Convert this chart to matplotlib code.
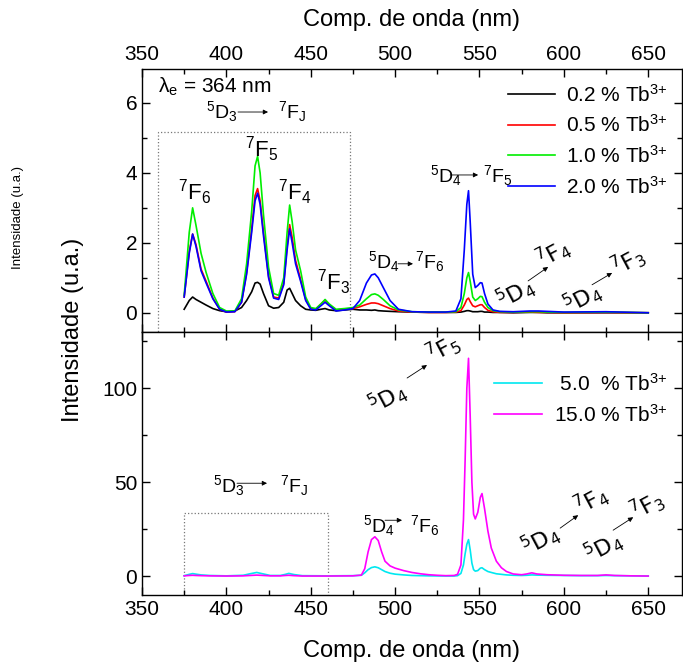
import matplotlib.pyplot as plt
import numpy as np
from matplotlib.ticker import MultipleLocator

plt.rcParams['font.family'] = ['Liberation Sans', 'DejaVu Sans']
plt.rcParams['mathtext.fontset'] = 'custom'
plt.rcParams['mathtext.rm'] = 'Liberation Sans'
plt.rcParams['mathtext.it'] = 'Liberation Sans:italic'
plt.rcParams['mathtext.default'] = 'regular'

# emission spectra, low Tb3+ contents (upper panel)
wl_low = [375, 378, 380, 382, 385, 388, 392, 396, 400, 405, 409, 412, 415, 417, 418.5,
          420, 422, 425, 428, 431, 434, 436, 437.5, 439, 441, 444, 447, 450, 453, 456,
          458.5, 461, 465, 470, 475, 479, 483, 486, 488, 490, 493, 497, 502, 510, 520,
          530, 536, 539, 541, 542.5, 543.5, 544.5, 546, 547.5, 549, 550.5, 551.5, 553,
          555, 558, 562, 570, 580, 585, 590, 600, 625, 650]

tb_02 = [0.1, 0.35, 0.45, 0.38, 0.3, 0.22, 0.12, 0.06, 0.03, 0.05, 0.15, 0.35, 0.6, 0.85, 0.87,
         0.82, 0.55, 0.2, 0.13, 0.15, 0.3, 0.65, 0.7, 0.55, 0.35, 0.2, 0.1, 0.08, 0.07, 0.1,
         0.12, 0.08, 0.06, 0.08, 0.1, 0.08, 0.08, 0.07, 0.08, 0.06, 0.05, 0.04, 0.03, 0.02, 0.01,
         0.01, 0.01, 0.02, 0.04, 0.06, 0.06, 0.05, 0.03, 0.03, 0.03, 0.04, 0.04, 0.02,
         0.02, 0.01, 0.01, 0.0, 0.01, 0.01, 0.0, 0.0, 0.0, 0.0]

tb_05 = [0.45, 1.75, 2.25, 1.95, 1.25, 0.9, 0.42, 0.1, 0.02, 0.03, 0.3, 1.15, 2.4, 3.35, 3.55,
         3.2, 2.3, 1.05, 0.45, 0.42, 0.85, 1.9, 2.52, 2.15, 1.5, 0.95, 0.38, 0.12, 0.1, 0.25,
         0.36, 0.22, 0.08, 0.1, 0.12, 0.17, 0.24, 0.28, 0.28, 0.26, 0.2, 0.12, 0.05, 0.02, 0.01,
         0.01, 0.02, 0.06, 0.22, 0.38, 0.42, 0.32, 0.2, 0.17, 0.2, 0.23, 0.23, 0.15,
         0.07, 0.03, 0.01, 0.01, 0.02, 0.01, 0.01, 0.0, 0.01, 0.0]

tb_10 = [0.5, 2.3, 3.0, 2.5, 1.7, 1.15, 0.55, 0.15, 0.05, 0.05, 0.4, 1.4, 2.9, 4.2, 4.47,
         4.0, 2.8, 1.3, 0.55, 0.5, 1.0, 2.3, 3.08, 2.6, 1.8, 1.2, 0.45, 0.15, 0.12, 0.25,
         0.38, 0.25, 0.1, 0.12, 0.15, 0.22, 0.4, 0.52, 0.54, 0.5, 0.38, 0.2, 0.08, 0.03, 0.02,
         0.02, 0.03, 0.15, 0.55, 1.0, 1.15, 0.9, 0.45, 0.35, 0.4, 0.47, 0.46, 0.3,
         0.15, 0.06, 0.03, 0.02, 0.03, 0.03, 0.02, 0.01, 0.02, 0.0]

tb_20 = [0.45, 1.7, 2.25, 1.9, 1.2, 0.85, 0.4, 0.1, 0.02, 0.03, 0.3, 1.1, 2.3, 3.2, 3.42,
         3.1, 2.2, 1.0, 0.42, 0.38, 0.8, 1.8, 2.4, 2.0, 1.4, 0.9, 0.35, 0.1, 0.08, 0.2,
         0.3, 0.2, 0.05, 0.08, 0.12, 0.35, 0.85, 1.08, 1.11, 1.0, 0.72, 0.35, 0.1, 0.03, 0.02,
         0.02, 0.05, 0.4, 1.8, 3.1, 3.49, 2.6, 1.1, 0.72, 0.78, 0.86, 0.85, 0.55,
         0.25, 0.08, 0.04, 0.03, 0.05, 0.05, 0.04, 0.02, 0.03, 0.0]

# emission spectra, high Tb3+ contents (lower panel)
wl_high = [375, 378, 380, 382, 385, 390, 400, 410, 414, 418, 422, 426, 432, 435, 437, 440,
           445, 460, 475, 480, 482, 484, 486, 488, 490, 492, 494, 497, 500, 505, 510, 515,
           520, 525, 530, 535, 537, 539, 540.5, 541.5, 542.5, 543.5, 544.5, 545.5, 546.5,
           547.5, 549, 550.5, 551.5, 553, 555, 557, 560, 563, 566, 570, 575, 578, 581, 584,
           590, 600, 610, 620, 625, 630, 640, 650]

tb_50 = [0.3, 1.0, 1.4, 1.1, 0.7, 0.4, 0.2, 0.5, 1.3, 2.0, 1.2, 0.4, 0.4, 1.0, 1.5, 0.9,
         0.3, 0.2, 0.3, 0.5, 1.8, 3.5, 4.6, 5.0, 4.5, 3.5, 2.5, 1.6, 1.1, 0.7, 0.4, 0.3,
         0.2, 0.15, 0.1, 0.1, 0.3, 1.5, 6, 12, 17, 19.5, 14, 7, 3.5,
         2.7, 3, 4.3, 4.5, 3.5, 2.5, 2, 1.3, 1.0, 0.7, 0.5, 0.4, 0.5, 0.7, 0.6,
         0.5, 0.4, 0.3, 0.3, 0.4, 0.3, 0.2, 0.1]

tb_150 = [0.2, 0.4, 0.5, 0.4, 0.3, 0.2, 0.1, 0.2, 0.4, 0.6, 0.4, 0.2, 0.2, 0.4, 0.5, 0.3,
          0.1, 0.1, 0.2, 0.6, 4, 13, 19.5, 21, 19, 13, 8, 5.5, 4.3, 3, 2, 1.3,
          0.8, 0.5, 0.3, 0.4, 1, 6, 30, 62, 100, 116, 85, 50, 33,
          30.5, 34, 42, 44, 36, 24, 15, 8, 4.5, 2.5, 1.2, 0.8, 1.2, 1.8, 1.2,
          0.8, 0.5, 0.4, 0.4, 0.7, 0.4, 0.2, 0.1]

low_series = [(tb_02, 'black', '0.2 % Tb$^{3{+}}$'),
              (tb_05, '#ff0000', '0.5 % Tb$^{3{+}}$'),
              (tb_10, '#00ee00', '1.0 % Tb$^{3{+}}$'),
              (tb_20, '#0000ff', '2.0 % Tb$^{3{+}}$')]
high_series = [(tb_50, '#00e8f0', ' 5.0  % Tb$^{3{+}}$'),
               (tb_150, '#ff00ff', '15.0 % Tb$^{3{+}}$')]

fig = plt.figure(figsize=(6.83, 6.64), dpi=100)
ax1 = fig.add_axes([0.2079, 0.5, 0.7906, 0.3961])
ax2 = fig.add_axes([0.2079, 0.1039, 0.7906, 0.3961])

for y, c, lab in low_series:
    ax1.plot(wl_low, y, color=c, lw=1.2, label=lab)
for y, c, lab in high_series:
    ax2.plot(wl_high, y, color=c, lw=1.2, label=lab)

for ax in (ax1, ax2):
    ax.set_xlim(350, 670)
    ax.xaxis.set_major_locator(MultipleLocator(50))
    ax.xaxis.set_minor_locator(MultipleLocator(25))
    ax.tick_params(which='both', direction='in', top=True, bottom=True, left=True,
                   right=True, labelsize=15, width=1)
    ax.tick_params(which='major', length=6)
    ax.tick_params(which='minor', length=3.5)
    for s in ax.spines.values():
        s.set_linewidth(1)

ax1.set_ylim(-0.55, 6.97)
ax1.yaxis.set_major_locator(MultipleLocator(2))
ax1.yaxis.set_minor_locator(MultipleLocator(1))
ax1.tick_params(labelbottom=False, labeltop=True)
ax1.xaxis.set_label_position('top')
ax1.set_xlabel('Comp. de onda (nm)', fontsize=17, labelpad=14)

ax2.set_ylim(-10, 130)
ax2.yaxis.set_major_locator(MultipleLocator(50))
ax2.yaxis.set_minor_locator(MultipleLocator(25))
ax2.set_xlabel('Comp. de onda (nm)', fontsize=17, labelpad=15)

fig.text(0.107, 0.503, 'Intensidade (u.a.)', rotation=90, fontsize=17,
         ha='center', va='center')
fig.text(0.027, 0.673, 'Intensidade (u.a.)', rotation=90, fontsize=9.5,
         ha='center', va='center')

leg1 = ax1.legend(loc='upper right', frameon=False, fontsize=15, handlelength=2.25,
                  handletextpad=0.5, labelspacing=0.42, borderaxespad=0.3,
                  bbox_to_anchor=(1.0, 1.0))
leg2 = ax2.legend(loc='upper right', frameon=False, fontsize=15, handlelength=2.3,
                  handletextpad=0.6, labelspacing=0.42, borderaxespad=0.3,
                  bbox_to_anchor=(1.0, 0.90))

# dotted boxes around the 5D3 region
ax1.add_patch(plt.Rectangle((359.5, -1), 113.8, 6.17, fill=False, ls=':', lw=0.9,
                            ec='#777777', clip_on=True))
ax2.add_patch(plt.Rectangle((375, -20), 85, 53.7, fill=False, ls=':', lw=0.9,
                            ec='#777777', clip_on=True))


def arrow(ax, x0, y0, x1, y1):
    ax.annotate('', xy=(x1, y1), xytext=(x0, y0),
                arrowprops=dict(arrowstyle='-|>', color='k', lw=0.6,
                                mutation_scale=7, shrinkA=0, shrinkB=0))


def transition(ax, x0, y0, ax0, ax1_, ay, x1, lo, hi, fs=14):
    ax.text(x0, y0, r'$^{5}$D$_{%s}$' % lo, fontsize=fs, ha='left', va='baseline')
    arrow(ax, ax0, ay, ax1_, ay)
    ax.text(x1, y0, r'$^{7}$F$_{%s}$' % hi, fontsize=fs, ha='left', va='baseline')


def tilted(ax, dx, dy, a0, a1, fx, fy, hi, fs=16, rot=28):
    ax.text(dx, dy, r'$^{5}$D$_{4}$', fontsize=fs, ha='center', va='center',
            rotation=rot, rotation_mode='anchor', family='DejaVu Sans')
    arrow(ax, a0[0], a0[1], a1[0], a1[1])
    ax.text(fx, fy, r'$^{7}$F$_{%s}$' % hi, fontsize=fs, ha='center', va='center',
            rotation=rot, rotation_mode='anchor', family='DejaVu Sans')


# upper panel labels
ax1.text(359.5, 6.29, 'λ$_e$ = 364 nm', fontsize=15, ha='left', va='baseline')
transition(ax1, 387.9, 5.57, 406.9, 424.7, 5.74, 430.6, '3', 'J')
for x, y, j in [(371.3, 3.23, '6'), (411.1, 4.46, '5'), (430.6, 3.23, '4'), (453.7, 0.66, '3')]:
    ax1.text(x, y, r'$^{7}$F$_{%s}$' % j, fontsize=16, ha='left', va='baseline')
transition(ax1, 484.0, 1.29, 501.7, 510.6, 1.4, 511.8, '4', '6')
transition(ax1, 520.7, 3.74, 532.6, 549.2, 3.94, 552.1, '4', '5')
tilted(ax1, 571.1, 0.57, (578.8, 0.91), (590.7, 1.31), 593.6, 1.71, '4')
tilted(ax1, 610.8, 0.43, (616.7, 0.8), (628.6, 1.14), 638.1, 1.46, '3')

# lower panel labels
transition(ax2, 392.1, 44.8, 406.3, 424.1, 49.5, 431.8, '3', 'J')
transition(ax2, 481.0, 23.4, 494.0, 504.1, 29.8, 508.9, '4', '6')
tilted(ax2, 495.2, 94.8, (507.1, 105.5), (518.9, 112.4), 528.4, 121.5, '5')
tilted(ax2, 585.9, 19.2, (597.8, 25.6), (608.5, 32.5), 616.7, 40.5, '4')
tilted(ax2, 623.3, 15.5, (629.2, 24.5), (641.1, 31.4), 649.4, 37.8, '3')

fig.savefig('out.png', dpi=100)
